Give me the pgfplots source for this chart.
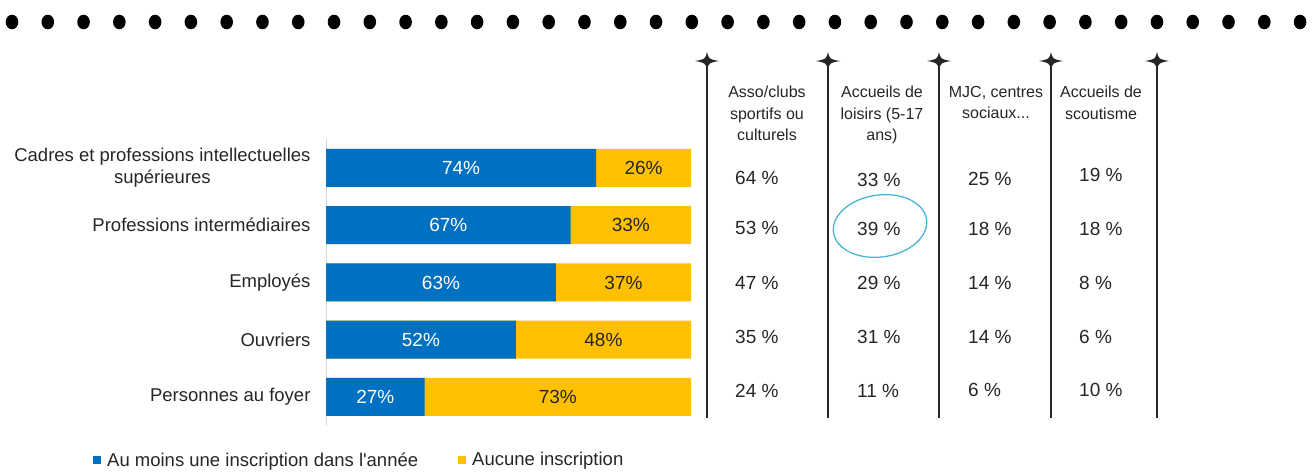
\documentclass[border=0pt]{standalone}
\usepackage{pgfplots}
\pgfplotsset{compat=1.18}
\usepackage{pgfplotstable}
\usepackage{fontspec}
\setmainfont{Liberation Sans}
\definecolor{barblue}{HTML}{0070C0}
\definecolor{baryellow}{HTML}{FFC000}
\definecolor{inkgrey}{HTML}{262626}
\definecolor{penblue}{HTML}{4BB4DA}

% part des enfants inscrits, par catégorie socio-professionnelle
\pgfplotstableread{
idx a b
0 74 26
1 67 33
2 63 37
3 52 48
4 27 73
}\cspdata

\newcommand\lbl{\fontsize{18.5bp}{22bp}\selectfont}
\newcommand\hdr{\fontsize{16bp}{21.5bp}\selectfont}
\newcommand\val{\fontsize{19bp}{22bp}\selectfont}
\newcommand\colstar[1]{\fill[inkgrey] (#1,420bp) .. controls (#1+1.8bp,412.8bp) .. (#1+12bp,411bp)
  .. controls (#1+1.8bp,409.2bp) .. (#1,402bp) .. controls (#1-1.8bp,409.2bp) .. (#1-12bp,411bp)
  .. controls (#1-1.8bp,412.8bp) .. cycle;}

\begin{document}
\begin{tikzpicture}
\path[use as bounding box] (0,0) rectangle (1314bp,472bp);

% rangée de points en haut
\foreach \i in {0,...,36}
  \fill ({12bp+\i*35.78bp},450bp) ellipse [x radius=6.3bp, y radius=7.3bp];

\begin{axis}[
  at={(326bp,46.4bp)}, anchor=south west,
  scale only axis, width=365bp, height=286.25bp,
  xmin=0, xmax=100, ymin=-0.5, ymax=4.5, y dir=reverse,
  axis x line=none, axis y line*=left,
  y axis line style={draw=black!15, line width=0.8bp},
  ytick={0,...,4}, major tick length=0pt,
  yticklabels={{Cadres et professions intellectuelles\\supérieures},Professions intermédiaires,Employés,Ouvriers,Personnes au foyer},
  yticklabel style={align=center, font=\lbl, text=inkgrey, xshift=-12bp},
  /pgf/number format/assume math mode=true,
  legend columns=2,
  legend image code/.code={\fill[#1, draw=none] (0bp,-4bp) rectangle (8bp,4bp);
    \path[draw=none, fill=none] (0bp,0bp) rectangle (12bp,0.5bp);},
  legend style={at={(-0.6384,-0.1202)}, anchor=west, draw=none, fill=none,
    inner sep=0pt, font=\lbl, text=inkgrey,
    /tikz/every even column/.append style={column sep=38bp}},
]
\addplot[xbar, bar width=38bp, bar shift=0pt, fill=baryellow, draw=none, forget plot]
  table[x expr=\thisrow{a}+\thisrow{b}, y=idx]{\cspdata};
\addplot[xbar, bar width=38bp, bar shift=0pt, fill=barblue, draw=none, forget plot]
  table[x=a, y=idx]{\cspdata};
\addplot[draw=none, mark=none, forget plot, point meta=explicit,
  nodes near coords={\pgfmathprintnumber{\pgfplotspointmeta}\%}, nodes near coords align=center,
  every node near coord/.append style={anchor=center, font=\val, text=white}]
  table[x expr=\thisrow{a}/2, y=idx, meta=a]{\cspdata};
\addplot[draw=none, mark=none, forget plot, point meta=explicit,
  nodes near coords={\pgfmathprintnumber{\pgfplotspointmeta}\%}, nodes near coords align=center,
  every node near coord/.append style={anchor=center, font=\val, text=inkgrey}]
  table[x expr=\thisrow{a}+\thisrow{b}/2, y=idx, meta=b]{\cspdata};
\addlegendimage{barblue}
\addlegendentry{Au moins une inscription dans l\textquotesingle année}
\addlegendimage{baryellow}
\addlegendentry{Aucune inscription}
\end{axis}

% colonnes du tableau
\foreach \x in {707bp,828bp,939bp,1051bp,1157bp} {
  \draw[inkgrey, line width=2bp] (\x,411bp) -- (\x,54bp);
  \colstar{\x}
}

\node[anchor=north, align=center, font=\hdr, text=inkgrey, inner sep=0pt] at (767bp,386bp) {Asso/clubs\\sportifs ou\\culturels};
\node[anchor=north, align=center, font=\hdr, text=inkgrey, inner sep=0pt] at (882bp,386bp) {Accueils de\\loisirs (5-17\\ans)};
\node[anchor=north, align=center, font=\hdr, text=inkgrey, inner sep=0pt] at (996bp,386bp) {MJC, centres\\sociaux...};
\node[anchor=north, align=center, font=\hdr, text=inkgrey, inner sep=0pt] at (1101bp,386bp) {Accueils de\\scoutisme};

\begin{scope}[every node/.style={anchor=west, inner sep=0pt, font=\val, text=inkgrey}]
\node at (735bp,294bp) {64 \%};  \node at (857bp,292bp) {33 \%};  \node at (968bp,293bp) {25 \%};  \node at (1079bp,297bp) {19 \%};
\node at (735bp,244bp) {53 \%};  \node at (857bp,243bp) {39 \%};  \node at (968bp,243bp) {18 \%};  \node at (1079bp,243bp) {18 \%};
\node at (735bp,189bp) {47 \%};  \node at (857bp,189bp) {29 \%};  \node at (968bp,189bp) {14 \%};  \node at (1079bp,189bp) {8 \%};
\node at (735bp,135bp) {35 \%};  \node at (857bp,135bp) {31 \%};  \node at (968bp,135bp) {14 \%};  \node at (1079bp,135bp) {6 \%};
\node at (735bp,81bp)  {24 \%};  \node at (857bp,81bp)  {11 \%};  \node at (968bp,82bp)  {6 \%};   \node at (1079bp,82bp)  {10 \%};
\end{scope}

% entourage à la main
\begin{scope}[shift={(880bp,246bp)}, rotate=8]
\draw[penblue, line width=1.3bp] (165:47bp and 31bp) arc[start angle=165, end angle=-200, x radius=47bp, y radius=31bp];
\end{scope}
\end{tikzpicture}
\end{document}
